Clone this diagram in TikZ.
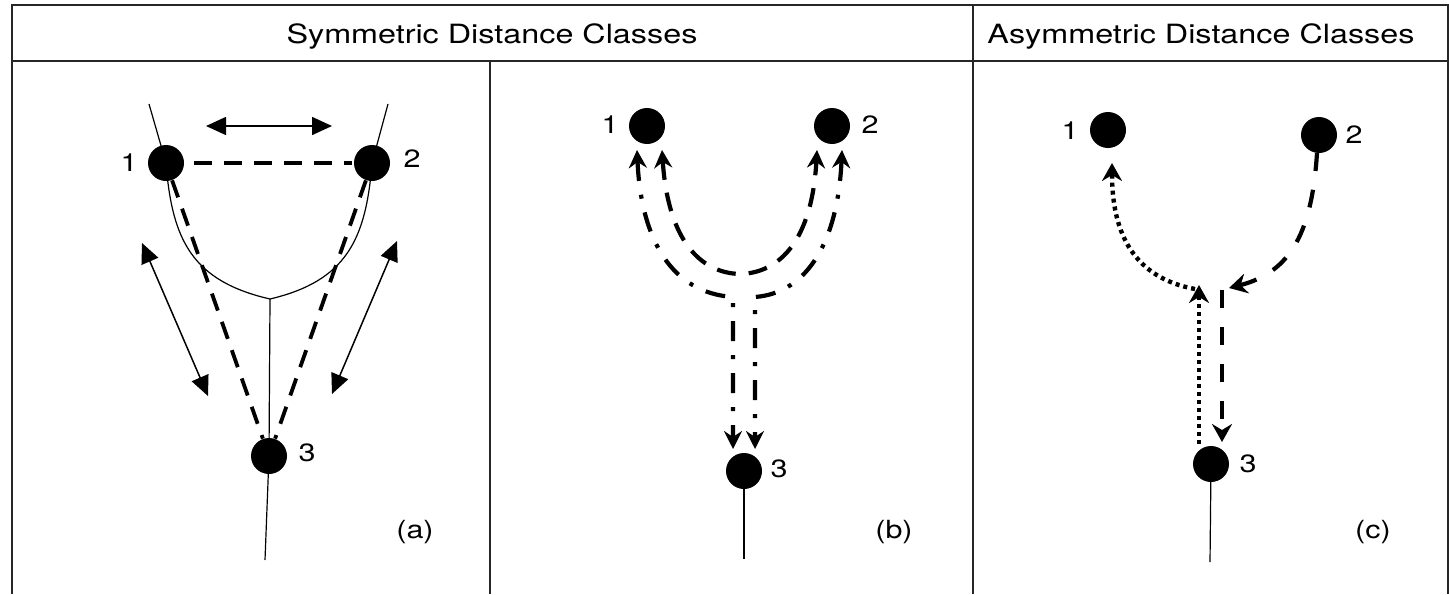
\documentclass[tikz,border=0pt]{standalone}
\usepackage{fontspec}
\setmainfont{TeX Gyre Heros}[FakeStretch=1.22]
\usetikzlibrary{arrows.meta,calc}

\begin{document}
\begin{tikzpicture}[x=0.5pt,y=-0.5pt,
  frame/.style={line width=1pt,black!85},
  vertex/.style={circle,fill=black,inner sep=0pt,minimum size=18pt},
  lbl/.style={font=\fontsize{12.5}{14}\selectfont,inner sep=0pt},
  hdr/.style={font=\fontsize{13.25}{16}\selectfont,inner sep=0pt,anchor=base},
  thinline/.style={line width=0.6pt},
  dblarrow/.style={line width=0.75pt,black,
    {Triangle[length=10pt,width=9pt]}-{Triangle[length=10pt,width=9pt]}},
  dashA/.style={line width=1.9pt,dash pattern=on 9pt off 6pt},
  dashB/.style={line width=2.1pt,dash pattern=on 9.5pt off 6.5pt},
  dashdotB/.style={line width=2.1pt,dash pattern=on 10pt off 7pt on 2pt off 7pt},
  dashC/.style={line width=2.1pt,dash pattern=on 9pt off 9.5pt},
  dotC/.style={line width=2.2pt,dash pattern=on 2pt off 2pt},
  bothB/.style={{Stealth[length=9pt,width=9pt,inset=3pt]}-{Stealth[length=9pt,width=9pt,inset=3pt]}},
  endC/.style={-{Stealth[length=9pt,width=10pt,inset=3pt]}}
]
\useasboundingbox (0,0) rectangle (1449,594);

% table frame
\draw[frame] (11.5,594) -- (11.5,5) -- (1448,5) -- (1448,594);
\draw[frame] (11.5,61) -- (1448,61);
\draw[frame] (973,5) -- (973,594);
\draw[frame] (490,61) -- (490,594);

% headers
\node[hdr] (hsym) at (492,43) {Symmetric Distance Classes};
\node[hdr] (hasym) at (1201,43) {Asymmetric Distance Classes};

% ---------- (a) ----------
\node[vertex] (a1) at (166,163) {};
\node[vertex] (a2) at (372,163) {};
\node[vertex] (a3) at (269,456) {};
\coordinate (a1top) at (149,104);
\coordinate (a2top) at (388,104);
\coordinate (av) at (270,299);
\coordinate (a3end) at (265,560);
\draw[thinline] (a1top) -- (a1.center) .. controls (172,240) and (192,281) .. (av)
  .. controls (346,281) and (366,240) .. (a2.center) -- (a2top);
\draw[thinline] (av) -- (a3.center) -- (a3end);
\draw[dashA,shorten <=5pt,shorten >=1pt] (a1) -- (a2);
\draw[dashA] (a1) -- (a3);
\draw[dashA] (a2) -- (a3);
\coordinate (atl) at (206,126);
\coordinate (atr) at (332,126);
\coordinate (all) at (142,243);
\coordinate (alr) at (208,396);
\coordinate (arl) at (397,241);
\coordinate (arr) at (332,394);
\draw[dblarrow] (atl) -- (atr);
\draw[dblarrow] (all) -- (alr);
\draw[dblarrow] (arl) -- (arr);
\node[lbl] (a1l) at (129,163) {1};
\node[lbl] (a2l) at (412,159) {2};
\node[lbl] (a3l) at (307,453) {3};
\node[lbl] (acap) at (415,532) {(a)};

% ---------- (b) ----------
\node[vertex] (b1) at (647,126) {};
\node[vertex] (b2) at (832,126) {};
\node[vertex] (b3) at (744,471) {};
\coordinate (b3end) at (744,559);
\draw[thinline] (b3.center) -- (b3end);
\draw[dashB,bothB] ($(b1)+(15,24)$) .. controls (668,240) and (700,273) .. (740,274)
  .. controls (780,273) and (812,240) .. ($(b2)+(-15,24)$);
\draw[dashdotB,bothB] ($(b1)+(-10,24)$) .. controls (641,240) and (672,293) .. (733,297)
  -- ($(b3)+(-11,-22)$);
\draw[dashdotB,bothB] ($(b2)+(10,24)$) .. controls (838,240) and (808,293) .. (755,297)
  -- ($(b3)+(11,-22)$);
\node[lbl] (b1l) at (610,125) {1};
\node[lbl] (b2l) at (870,125) {2};
\node[lbl] (b3l) at (779,469) {3};
\node[lbl] (bcap) at (894,532) {(b)};

% ---------- (c) ----------
\node[vertex] (c1) at (1108,130) {};
\node[vertex] (c2) at (1319,135) {};
\node[vertex] (c3) at (1211,464) {};
\coordinate (c3end) at (1210,562);
\coordinate (cjl) at (1199,285);
\coordinate (cjr) at (1222,290);
\draw[thinline] (c3.center) -- (c3end);
\draw[dotC,endC] ($(c3)+(-12,-20)$) -- (cjl);
\draw[dotC,endC] ($(cjl)+(-4,4)$) .. controls (1135,278) and (1112,235) .. ($(c1)+(4,33)$);
\draw[dashC,endC] ($(c2)+(-2,18)$) .. controls (1312,230) and (1292,272) .. ($(cjr)+(7,-2)$);
\draw[dashC,endC] (cjr) -- ($(c3)+(11,-22)$);
\node[lbl] (c1l) at (1070,131) {1};
\node[lbl] (c2l) at (1354,135) {2};
\node[lbl] (c3l) at (1248,464) {3};
\node[lbl] (ccap) at (1373,532) {(c)};
\end{tikzpicture}
\end{document}
